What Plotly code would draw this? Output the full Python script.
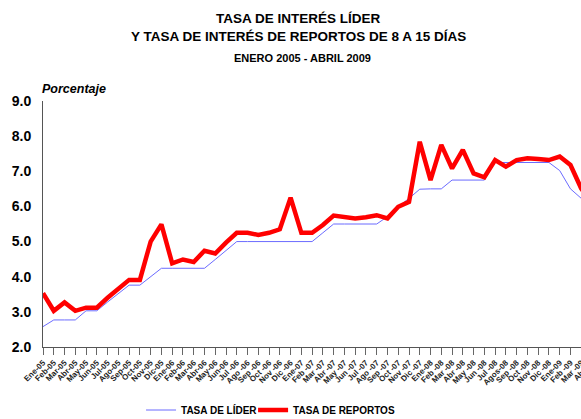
import plotly.graph_objects as go

months = ["Ene-05","Feb-05","Mar-05","Abr-05","May-05","Jun-05","Jul-05","Ago-05","Sep-05","Oct-05","Nov-05","Dic-05",
          "Ene-06","Feb-06","Mar-06","Abr-06","May-06","Jun-06","Jul -06","Ago -06","Sep -06","Oct -06","Nov -06","Dic -06",
          "Ene-07","Feb -07","Mar -07","Abr -07","May -07","Jun -07","Jul -07","Ago -07","Sep -07","Oct -07","Nov -07","Dic -07",
          "Ene-08","Feb -08","Mar -08","Abr -08","May -08","Jun -08","Jul -08","Agos-08","Sep -08","Oct -08","Nov -08","Dic -08",
          "Ene-09","Feb -09","Mar -09","Abr-09"]

tasa_lider = [2.58,2.77,2.77,2.77,3.03,3.03,3.28,3.53,3.76,3.76,4.00,4.24,
              4.24,4.24,4.24,4.24,4.49,4.75,5.00,5.00,5.00,5.00,5.00,5.00,
              5.00,5.00,5.25,5.50,5.50,5.50,5.50,5.50,5.71,5.99,6.23,6.49,
              6.50,6.50,6.75,6.75,6.75,6.75,7.25,7.25,7.25,7.25,7.25,7.25,
              7.02,6.50,6.23,6.00]

tasa_reportos = [3.53,3.03,3.27,3.03,3.12,3.12,3.40,3.65,3.91,3.91,5.00,5.49,
                 4.38,4.49,4.42,4.74,4.66,4.97,5.25,5.25,5.19,5.25,5.35,6.25,
                 5.25,5.25,5.47,5.74,5.71,5.66,5.69,5.75,5.66,5.99,6.13,7.84,
                 6.75,7.75,7.08,7.61,6.94,6.83,7.32,7.13,7.32,7.37,7.35,7.32,
                 7.42,7.18,6.51,6.10]

y_ticks = [2.0,3.0,4.0,5.0,6.0,7.0,8.0,9.0]

FONT = "Arial, Liberation Sans, sans-serif"

# the page body margin is removed (see post_script), so figure coords = window coords
ML, MT = 43, 101
PW, PH = 548.8, 246      # plot extends a little past the right edge of the window, as in the original
W, H = 595, 419


def px(xw):
    return (xw - ML) / PW


def py(yw):
    return (MT + PH - yw) / PH


fig = go.Figure()
fig.add_trace(go.Scatter(x=months, y=tasa_lider, mode="lines", name="TASA DE LÍDER",
                         line=dict(color="#6b6bff", width=1), legend="legend"))
fig.add_trace(go.Scatter(x=months, y=tasa_reportos, mode="lines", name="TASA DE REPORTOS",
                         line=dict(color="#ff0000", width=4.5), legend="legend2"))

leg_common = dict(orientation="h", yanchor="middle", xanchor="left",
                  font=dict(size=10, family=FONT, weight="bold"), itemwidth=30,
                  bgcolor="rgba(0,0,0,0)", borderwidth=0)

fig.update_layout(
    width=W, height=H,
    margin=dict(l=ML, r=W - ML - PW, t=MT, b=H - MT - PH, autoexpand=False),
    paper_bgcolor="white", plot_bgcolor="white",
    font=dict(family=FONT, color="black"),
    hovermode=False,
    showlegend=True,
    legend=dict(x=px(141), y=py(410), **leg_common),
    legend2=dict(x=px(253), y=py(410), **leg_common),
    annotations=[
        dict(text="<b>TASA DE INTERÉS LÍDER</b>", xref="paper", yref="paper", x=px(298), y=py(18),
             showarrow=False, font=dict(size=13.5, family=FONT), xanchor="center", yanchor="middle"),
        dict(text="<b>Y TASA DE INTERÉS DE REPORTOS DE 8 A 15 DÍAS</b>", xref="paper", yref="paper",
             x=px(298), y=py(37), showarrow=False, font=dict(size=13.5, family=FONT),
             xanchor="center", yanchor="middle"),
        dict(text="<b>ENERO 2005 - ABRIL 2009</b>", xref="paper", yref="paper", x=px(302), y=py(58),
             showarrow=False, font=dict(size=11, family=FONT), xanchor="center", yanchor="middle"),
        dict(text="<b><i>Porcentaje</i></b>", xref="paper", yref="paper", x=px(43), y=py(89),
             showarrow=False, font=dict(size=12.5, family=FONT), xanchor="left", yanchor="middle",
             xshift=-3),
    ],
)

fig.update_xaxes(type="category", range=[0, 51], showline=True, linecolor="#555555", linewidth=1,
                 ticks="outside", ticklen=7, tickcolor="#666666", tickwidth=1, automargin=False,
                 tickangle=-45, tickfont=dict(size=8, family=FONT, weight="bold", color="#222222"),
                 showgrid=False, zeroline=False)
fig.update_yaxes(range=[2, 9], tickvals=y_ticks, ticktext=[f"{v:.1f}" for v in y_ticks], automargin=False,
                 showline=True, linecolor="#555555", linewidth=1, ticks="", ticklabelstandoff=8,
                 tickfont=dict(size=14, family=FONT, weight="bold"), showgrid=False, zeroline=False)

fig.write_html(
    "out.html",
    config={"displayModeBar": False, "staticPlot": True},
    post_script="document.body.style.margin='0';"
                "document.documentElement.style.overflow='hidden';"
                "document.body.style.overflow='hidden';",
)
